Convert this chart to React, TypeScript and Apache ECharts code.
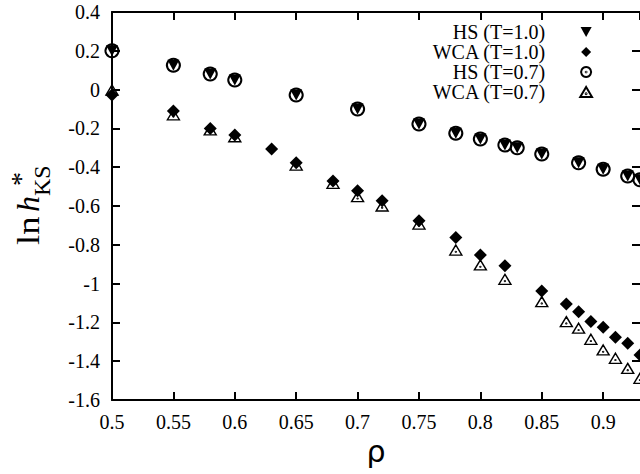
import React, { useEffect, useRef } from 'react';
import * as echarts from 'echarts';

// ---- data ----
const seriesNames = ['HS (T=1.0)', 'WCA (T=1.0)', 'HS (T=0.7)', 'WCA (T=0.7)'];

const hsRho = [0.5, 0.55, 0.58, 0.6, 0.65, 0.7, 0.75, 0.78, 0.8, 0.82, 0.83, 0.85, 0.88, 0.9, 0.92, 0.93];
const hsT10 = [0.2, 0.125, 0.08, 0.05, -0.028, -0.1, -0.177, -0.225, -0.255, -0.286, -0.3, -0.332, -0.377, -0.411, -0.445, -0.465];
const hsT07 = [0.2, 0.125, 0.08, 0.05, -0.028, -0.1, -0.177, -0.225, -0.255, -0.286, -0.3, -0.332, -0.377, -0.411, -0.445, -0.465];

const wcaRho10 = [0.5, 0.55, 0.58, 0.6, 0.63, 0.65, 0.68, 0.7, 0.72, 0.75, 0.78, 0.8, 0.82, 0.85, 0.87, 0.88, 0.89, 0.9, 0.91, 0.92, 0.93];
const wcaT10 = [-0.028, -0.11, -0.2, -0.234, -0.306, -0.377, -0.471, -0.521, -0.573, -0.676, -0.762, -0.853, -0.908, -1.038, -1.105, -1.145, -1.196, -1.225, -1.277, -1.308, -1.368];

const wcaRho07 = [0.5, 0.55, 0.58, 0.6, 0.65, 0.68, 0.7, 0.72, 0.75, 0.78, 0.8, 0.82, 0.85, 0.87, 0.88, 0.89, 0.9, 0.91, 0.92, 0.93];
const wcaT07 = [-0.002, -0.13, -0.208, -0.243, -0.389, -0.483, -0.552, -0.6, -0.693, -0.827, -0.904, -0.978, -1.093, -1.196, -1.23, -1.287, -1.342, -1.385, -1.437, -1.488];

const xMin = 0.5;
const xMax = 0.93;
const xStep = 0.05;
const yMin = -1.6;
const yMax = 0.4;
const yStep = 0.2;

const xTitle = 'ρ';

// ---- symbols ----
const INV_TRI = 'path://M0,0L20,0L10,18Z';
const DIAMOND = 'path://M10,0L20,10L10,20L0,10Z';
const CIRCLE_DOT = 'path://M10,0A10,10 0 1,1 9.99,0Z M10,9.3A0.7,0.7 0 1,1 9.99,9.3Z';
const TRI_DOT = 'path://M10,0L20,17L0,17Z M10,10.8A0.7,0.7 0 1,1 9.99,10.8Z';

const SERIF = '"Liberation Serif", "Times New Roman", serif';

const pairs = (xs: number[], ys: number[]) => xs.map((x, i) => [x, ys[i]]);

export default function App() {
  const ref = useRef<HTMLDivElement>(null);

  useEffect(() => {
    if (!ref.current) return;
    const chart = echarts.init(ref.current, null, { renderer: 'svg' });

    const axisCommon = {
      axisLine: { show: true, onZero: false, lineStyle: { color: '#000', width: 2 } },
      axisTick: { show: true, inside: true, length: 8, lineStyle: { color: '#000', width: 2 } },
      splitLine: { show: false },
    };

    const option: any = {
      animation: false,
      backgroundColor: '#fff',
      grid: { left: 112, right: 0, top: 12, bottom: 74, containLabel: false },
      xAxis: [
        {
          type: 'value',
          min: xMin,
          max: xMax,
          interval: xStep,
          position: 'bottom',
          name: xTitle,
          nameLocation: 'middle',
          nameGap: 36,
          nameTextStyle: { fontFamily: '"DejaVu Sans", sans-serif', fontSize: 30, color: '#000' },
          ...axisCommon,
          axisLabel: {
            show: true,
            margin: 12,
            showMaxLabel: false,
            fontFamily: SERIF,
            fontSize: 20,
            color: '#000',
          },
        },
        {
          type: 'value',
          min: xMin,
          max: xMax,
          interval: xStep,
          position: 'top',
          ...axisCommon,
          axisLabel: { show: false },
        },
      ],
      yAxis: [
        {
          type: 'value',
          min: yMin,
          max: yMax,
          interval: yStep,
          position: 'left',
          ...axisCommon,
          axisLabel: {
            show: true,
            margin: 12,
            fontFamily: SERIF,
            fontSize: 20,
            color: '#000',
          },
        },
        {
          type: 'value',
          min: yMin,
          max: yMax,
          interval: yStep,
          position: 'right',
          ...axisCommon,
          axisLine: { show: false },
          axisLabel: { show: false },
        },
      ],
      legend: {
        orient: 'vertical',
        right: 47,
        top: 22,
        align: 'right',
        padding: 0,
        itemGap: 0,
        itemWidth: 72,
        itemHeight: 10,
        selectedMode: false,
        symbolKeepAspect: true,
        textStyle: { fontFamily: SERIF, fontSize: 20, color: '#000', lineHeight: 19 },
        data: [
          { name: seriesNames[0], icon: INV_TRI },
          { name: seriesNames[1], icon: DIAMOND },
          { name: seriesNames[2], icon: CIRCLE_DOT },
          { name: seriesNames[3], icon: TRI_DOT },
        ],
      },
      series: [
        {
          name: seriesNames[0],
          type: 'scatter',
          data: pairs(hsRho, hsT10),
          symbol: INV_TRI,
          symbolSize: [12, 11],
          itemStyle: { color: '#000', opacity: 1 },
          emphasis: { disabled: true },
        },
        {
          name: seriesNames[1],
          type: 'scatter',
          data: pairs(wcaRho10, wcaT10),
          symbol: DIAMOND,
          symbolSize: 13,
          itemStyle: { color: '#000', opacity: 1 },
          emphasis: { disabled: true },
        },
        {
          name: seriesNames[2],
          type: 'scatter',
          data: pairs(hsRho, hsT07),
          symbol: CIRCLE_DOT,
          symbolSize: 13,
          itemStyle: { color: 'rgba(255,255,255,0)', borderColor: '#000', borderWidth: 2, opacity: 1 },
          emphasis: { disabled: true },
        },
        {
          name: seriesNames[3],
          type: 'scatter',
          data: pairs(wcaRho07, wcaT07),
          symbol: TRI_DOT,
          symbolSize: [12, 10],
          itemStyle: { color: 'rgba(255,255,255,0)', borderColor: '#000', borderWidth: 1.4, opacity: 1 },
          emphasis: { disabled: true },
        },
      ],
      graphic: [
        {
          type: 'group',
          x: 39,
          y: 245,
          rotation: Math.PI / 2,
          children: [
            {
              type: 'text',
              x: 0,
              y: -11,
              scaleX: 1.15,
              style: { text: 'ln', fontFamily: SERIF, fontSize: 32, fill: '#000', align: 'left', verticalAlign: 'middle' },
            },
            {
              type: 'text',
              x: 33,
              y: -11,
              style: { text: 'h', fontFamily: SERIF, fontStyle: 'italic', fontSize: 32, fill: '#000', align: 'left', verticalAlign: 'middle' },
            },
            {
              type: 'text',
              x: 49,
              y: 3,
              style: { text: 'KS', fontFamily: SERIF, fontSize: 24, fill: '#000', align: 'left', verticalAlign: 'middle' },
            },
            {
              type: 'text',
              x: 66,
              y: -19,
              style: { text: '*', fontFamily: SERIF, fontSize: 28, fill: '#000', align: 'center', verticalAlign: 'middle' },
            },
          ],
        },
      ],
    };

    chart.setOption(option);
    return () => chart.dispose();
  }, []);

  return (
    <div
      ref={ref}
      style={{ position: 'fixed', left: 0, top: 0, width: 640, height: 474, background: '#fff' }}
    />
  );
}
